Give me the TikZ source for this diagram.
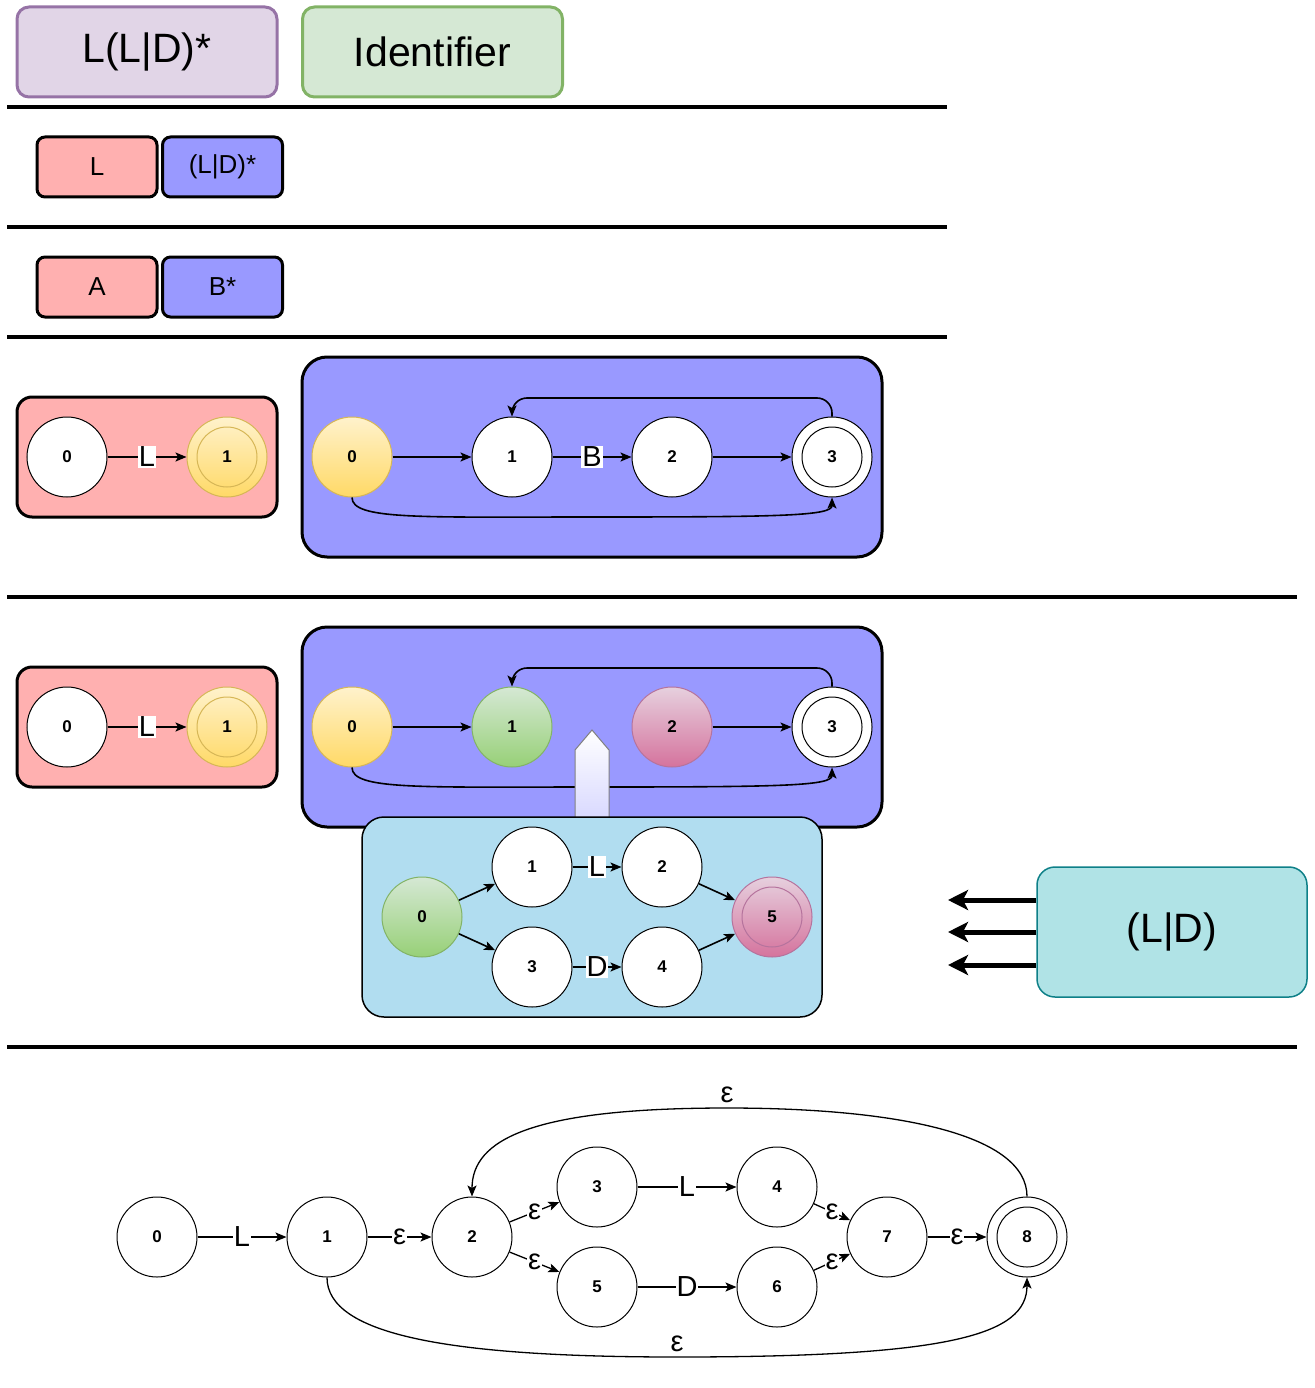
\documentclass[tikz,border=0pt]{standalone}
\usepackage{fontspec}
\setmainfont{Liberation Sans}
\usepackage{tikz}
\usetikzlibrary{arrows.meta}

\definecolor{lilac}{HTML}{E1D5E7}
\definecolor{lilacline}{HTML}{9673A6}
\definecolor{mint}{HTML}{D5E8D4}
\definecolor{mintline}{HTML}{82B366}
\definecolor{pinkbox}{HTML}{FFB0B0}
\definecolor{bluebox}{HTML}{9999FF}
\definecolor{skybox}{HTML}{B1DDF0}
\definecolor{tealbox}{HTML}{B0E3E6}
\definecolor{tealline}{HTML}{0E8088}
\definecolor{yellowtop}{HTML}{FFF2CC}
\definecolor{yellowbot}{HTML}{FFD966}
\definecolor{yellowline}{HTML}{D6B656}
\definecolor{greentop}{HTML}{D5E8D4}
\definecolor{greenbot}{HTML}{97D077}
\definecolor{rosetop}{HTML}{E6D0DE}
\definecolor{rosebot}{HTML}{D5739D}
\definecolor{roseline}{HTML}{B5739D}
\definecolor{arrowbot}{HTML}{D8D8FF}

\newcommand{\numfont}{\fontsize{17}{20}\selectfont\bfseries}
\newcommand{\labfont}{\fontsize{29}{32}\selectfont}
\newcommand{\midfont}{\fontsize{26}{30}\selectfont}
\newcommand{\bigfont}{\fontsize{41}{46}\selectfont}

\begin{document}
\begin{tikzpicture}[x=1pt,y=-1pt,>={Stealth[length=11pt,width=9pt,inset=2.5pt]},node distance=160pt,
  main node/.style={circle,fill=white,draw,line width=1pt,minimum size=80pt,inner sep=0pt,font=\numfont},
  accept node/.style={path picture={\draw[#1,line width=1pt] (path picture bounding box.center) circle[radius=30pt];}},
  yellow node/.style={draw=yellowline,top color=yellowtop,bottom color=yellowbot},
  green node/.style={draw=mintline,top color=greentop,bottom color=greenbot},
  rose node/.style={draw=roseline,top color=rosetop,bottom color=rosebot},
  edge line/.style={line width=1.6pt},
  lbl/.style={fill=white,inner sep=1pt,font=\labfont},
  bigbox/.style={draw,line width=3pt,rounded corners=12pt,minimum width=260pt,minimum height=90pt,font=\bigfont},
  part/.style={draw,line width=3pt,rounded corners=8pt,minimum width=120pt,minimum height=60pt,font=\midfont},
  frame/.style={draw,line width=3pt},
  fat arrow/.style={-{Stealth[length=20pt,width=20pt,inset=5pt]},line width=5pt},
  rule/.style={line width=4pt}]

  \useasboundingbox (0,0) rectangle (1314,1388);

  % regular expression and token name
  \node[bigbox,draw=lilacline,fill=lilac] (regex) at (147,52) {L(L|D)*};
  \node[bigbox,draw=mintline,fill=mint] (ident) at (432.5,52) {Identifier};
  \draw[rule] (7,107) -- (947,107);

  % split into parts
  \node[part,fill=pinkbox] (pl) at (97,167) {L};
  \node[part,fill=bluebox] (pld) at (222.5,167) {(L|D)*};
  \draw[rule] (7,227) -- (947,227);

  \node[part,fill=pinkbox] (pa) at (97,287) {A};
  \node[part,fill=bluebox] (pb) at (222.5,287) {B*};
  \draw[rule] (7,337) -- (947,337);

  % automata for A and B*
  \node[frame,fill=pinkbox,rounded corners=15pt,minimum width=260pt,minimum height=120pt] (fa) at (147,457) {};
  \node[main node] (a0) at (67,457) {0};
  \node[main node,yellow node,accept node=yellowline] (a1) at (227,457) {1};
  \path[->,edge line] (a0) edge node[lbl] {L} (a1);

  \node[frame,fill=bluebox,rounded corners=25pt,minimum width=580pt,minimum height=200pt] (fb) at (592,457) {};
  \node[main node,yellow node] (b0) at (352,457) {0};
  \node[main node] (b1) [right of=b0] {1};
  \node[main node] (b2) [right of=b1] {2};
  \node[main node,accept node=black] (b3) [right of=b2] {3};
  \path[->,edge line]
    (b0) edge (b1)
    (b1) edge node[lbl] {B} (b2)
    (b2) edge (b3);
  \draw[->,edge line,rounded corners=15pt] (b3.north) |- (672,398) -| (b1.north);
  \draw[->,edge line] (b0.south) .. controls (352,520) and (420,517) .. (592,517)
    .. controls (780,517) and (832,516) .. (b3.south);

  \draw[rule] (7,597) -- (1297,597);

  % replacing B by (L|D)
  \node[frame,fill=pinkbox,rounded corners=15pt,minimum width=260pt,minimum height=120pt] (ga) at (147,727) {};
  \node[main node] (c0) at (67,727) {0};
  \node[main node,yellow node,accept node=yellowline] (c1) at (227,727) {1};
  \path[->,edge line] (c0) edge node[lbl] {L} (c1);

  \node[frame,fill=bluebox,rounded corners=25pt,minimum width=580pt,minimum height=200pt] (gb) at (592,727) {};
  \node[main node,yellow node] (d0) at (352,727) {0};
  \node[main node,green node] (d1) [right of=d0] {1};
  \node[main node,rose node] (d2) [right of=d1] {2};
  \node[main node,accept node=black] (d3) [right of=d2] {3};
  \path[->,edge line]
    (d0) edge (d1)
    (d2) edge (d3);
  \draw[->,edge line,rounded corners=15pt] (d3.north) |- (672,668) -| (d1.north);
  \draw[->,edge line] (d0.south) .. controls (352,790) and (420,787) .. (592,787)
    .. controls (780,787) and (832,786) .. (d3.south);

  \draw[draw=gray,line width=1pt,top color=white,bottom color=arrowbot]
    (575,820) -- (575,750) -- (592,730) -- (609,750) -- (609,820) -- cycle;

  \node[frame,fill=skybox,line width=1.5pt,rounded corners=22pt,minimum width=460pt,minimum height=200pt] (gc) at (592,917) {};
  \node[main node,green node] (s0) at (422,917) {0};
  \node[main node] (s1) at (532,867) {1};
  \node[main node] (s2) [right of=s1,node distance=130pt] {2};
  \node[main node] (s3) at (532,967) {3};
  \node[main node] (s4) [right of=s3,node distance=130pt] {4};
  \node[main node,rose node,accept node=roseline] (s5) at (772,917) {5};
  \path[->,edge line]
    (s0) edge (s1)
    (s0) edge (s3)
    (s1) edge node[lbl] {L} (s2)
    (s3) edge node[lbl] {D} (s4)
    (s2) edge (s5)
    (s4) edge (s5);

  \node[frame,draw=tealline,fill=tealbox,line width=1.5pt,rounded corners=18pt,minimum width=270pt,minimum height=130pt,font=\bigfont] (ld) at (1172,932) {(L|D)};
  \coordinate (t1) at (948,900);
  \coordinate (t2) at (948,932);
  \coordinate (t3) at (948,965);
  \draw[fat arrow] (ld.west |- t1) -- (t1);
  \draw[fat arrow] (ld.west |- t2) -- (t2);
  \draw[fat arrow] (ld.west |- t3) -- (t3);

  \draw[rule] (7,1047) -- (1297,1047);

  % resulting automaton
  \node[main node] (n0) at (157,1237) {0};
  \node[main node] (n1) at (327,1237) {1};
  \node[main node] (n2) at (472,1237) {2};
  \node[main node] (n3) at (597,1187) {3};
  \node[main node] (n4) at (777,1187) {4};
  \node[main node] (n5) at (597,1287) {5};
  \node[main node] (n6) at (777,1287) {6};
  \node[main node] (n7) at (887,1237) {7};
  \node[main node,accept node=black] (n8) at (1027,1237) {8};

  \path[->,line width=1.3pt]
    (n0) edge node[lbl] {L} (n1)
    (n1) edge node[lbl] {ε} (n2)
    (n2) edge node[lbl] {ε} (n3)
    (n2) edge node[lbl] {ε} (n5)
    (n3) edge node[lbl] {L} (n4)
    (n5) edge node[lbl] {D} (n6)
    (n4) edge node[lbl] {ε} (n7)
    (n6) edge node[lbl] {ε} (n7)
    (n7) edge node[lbl] {ε} (n8);
  \draw[->,line width=1.3pt] (n8.north) .. controls (1027,1135) and (900,1108) .. (727,1108)
    node[above=1pt,font=\labfont] {ε}
    .. controls (530,1108) and (472,1140) .. (n2.north);
  \draw[->,line width=1.3pt] (n1.south) .. controls (327,1335) and (450,1357) .. (677,1357)
    node[above=1pt,font=\labfont] {ε}
    .. controls (950,1357) and (1027,1335) .. (n8.south);
\end{tikzpicture}
\end{document}
